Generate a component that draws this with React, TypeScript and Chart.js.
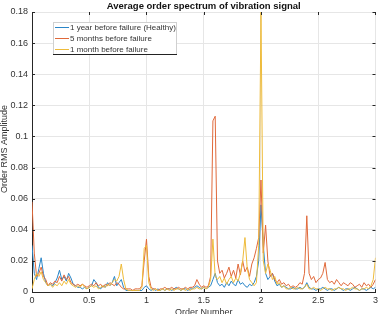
import React, { useEffect, useRef } from "react";
import { Chart, registerables } from "chart.js";

Chart.register(...registerables);

const title = "Average order spectrum of vibration signal";
const xLabel = "Order Number";
const yLabel = "Order RMS Amplitude";
const seriesNames = ["1 year before failure (Healthy)", "5 months before failure", "1 month before failure"];
const seriesColors = ["#2a86c8", "#e0693a", "#eebb3a"];
const xTicks = [0, 0.5, 1, 1.5, 2, 2.5, 3];
const yTicks = [0, 0.02, 0.04, 0.06, 0.08, 0.1, 0.12, 0.14, 0.16, 0.18];

// order axis sampled every 0.02
const orders = Array.from({ length: 151 }, (_, i) => Math.round(i * 2) / 100);

const healthy = [
  0.030, 0.012, 0.008, 0.015, 0.022, 0.012, 0.006, 0.004, 0.005, 0.004,
  0.006, 0.009, 0.014, 0.008, 0.010, 0.007, 0.012, 0.009, 0.005, 0.004,
  0.003, 0.003, 0.002, 0.003, 0.002, 0.003, 0.004, 0.008, 0.006, 0.003,
  0.002, 0.004, 0.003, 0.006, 0.004, 0.006, 0.010, 0.004, 0.006, 0.008,
  0.003, 0.001, 0.001, 0.001, 0.001, 0.001, 0.001, 0.001, 0.001, 0.003,
  0.004, 0.002, 0.001, 0.002, 0.001, 0.002, 0.001, 0.002, 0.001, 0.002,
  0.002, 0.001, 0.002, 0.003, 0.002, 0.001, 0.002, 0.002, 0.001, 0.002,
  0.002, 0.003, 0.004, 0.003, 0.002, 0.003, 0.002, 0.003, 0.004, 0.008,
  0.012, 0.006, 0.004, 0.005, 0.003, 0.006, 0.004, 0.007, 0.005, 0.004,
  0.008, 0.005, 0.006, 0.004, 0.003, 0.005, 0.004, 0.006, 0.010, 0.020,
  0.056, 0.030, 0.012, 0.008, 0.010, 0.012, 0.007, 0.004, 0.005, 0.003,
  0.004, 0.003, 0.002, 0.002, 0.003, 0.002, 0.002, 0.003, 0.002, 0.003,
  0.006, 0.003, 0.002, 0.002, 0.001, 0.002, 0.002, 0.003, 0.002, 0.001,
  0.002, 0.002, 0.001, 0.002, 0.003, 0.002, 0.001, 0.002, 0.002, 0.001,
  0.002, 0.003, 0.002, 0.001, 0.002, 0.002, 0.001, 0.002, 0.003, 0.002,
  0.003,
];

const fiveMonths = [
  0.058, 0.025, 0.010, 0.012, 0.016, 0.010, 0.008, 0.004, 0.006, 0.005,
  0.007, 0.006, 0.010, 0.007, 0.011, 0.008, 0.010, 0.006, 0.005, 0.004,
  0.005, 0.004, 0.005, 0.004, 0.003, 0.004, 0.005, 0.004, 0.006, 0.004,
  0.005, 0.003, 0.005, 0.004, 0.006, 0.005, 0.004, 0.006, 0.005, 0.003,
  0.002, 0.002, 0.002, 0.002, 0.001, 0.002, 0.002, 0.002, 0.004, 0.020,
  0.034, 0.010, 0.003, 0.002, 0.002, 0.001, 0.002, 0.002, 0.003, 0.002,
  0.002, 0.003, 0.002, 0.002, 0.003, 0.002, 0.002, 0.003, 0.002, 0.003,
  0.003, 0.004, 0.008, 0.005, 0.003, 0.004, 0.003, 0.004, 0.010, 0.110,
  0.113, 0.020, 0.012, 0.014, 0.009, 0.012, 0.016, 0.010, 0.014, 0.009,
  0.018, 0.011, 0.020, 0.013, 0.016, 0.010, 0.018, 0.022, 0.028, 0.035,
  0.072, 0.025, 0.043, 0.020, 0.010, 0.012, 0.008, 0.006, 0.008, 0.005,
  0.006, 0.004, 0.005, 0.003, 0.004, 0.003, 0.004, 0.006, 0.005, 0.012,
  0.049, 0.012, 0.008, 0.010, 0.006, 0.008, 0.009, 0.012, 0.019, 0.008,
  0.006, 0.007, 0.005, 0.008, 0.006, 0.004, 0.006, 0.005, 0.004, 0.006,
  0.005, 0.003, 0.004, 0.005, 0.003, 0.006, 0.004, 0.005, 0.003, 0.005,
  0.008,
];

const oneMonth = [
  0.002, 0.008, 0.012, 0.010, 0.013, 0.008, 0.006, 0.004, 0.005, 0.003,
  0.005, 0.004, 0.006, 0.004, 0.007, 0.005, 0.008, 0.005, 0.004, 0.003,
  0.004, 0.003, 0.005, 0.003, 0.002, 0.003, 0.004, 0.003, 0.004, 0.002,
  0.003, 0.004, 0.003, 0.005, 0.004, 0.006, 0.008, 0.007, 0.010, 0.018,
  0.008, 0.002, 0.001, 0.001, 0.001, 0.001, 0.001, 0.001, 0.003, 0.028,
  0.030, 0.006, 0.002, 0.001, 0.002, 0.001, 0.001, 0.002, 0.001, 0.002,
  0.001, 0.002, 0.001, 0.002, 0.002, 0.001, 0.002, 0.001, 0.002, 0.001,
  0.002, 0.002, 0.003, 0.002, 0.002, 0.003, 0.002, 0.003, 0.008, 0.034,
  0.010, 0.008, 0.010, 0.006, 0.009, 0.005, 0.008, 0.010, 0.006, 0.009,
  0.007, 0.012, 0.020, 0.035, 0.015, 0.008, 0.006, 0.004, 0.006, 0.030,
  0.180, 0.020, 0.012, 0.018, 0.014, 0.008, 0.010, 0.005, 0.006, 0.003,
  0.004, 0.002, 0.002, 0.003, 0.002, 0.002, 0.003, 0.002, 0.002, 0.003,
  0.005, 0.002, 0.002, 0.003, 0.002, 0.002, 0.001, 0.002, 0.003, 0.002,
  0.002, 0.001, 0.002, 0.002, 0.003, 0.002, 0.002, 0.001, 0.002, 0.002,
  0.003, 0.002, 0.002, 0.001, 0.002, 0.002, 0.003, 0.002, 0.004, 0.008,
  0.022,
];

const FONT = '"Liberation Sans", Arial, sans-serif';

const decor = {
  id: "decor",
  afterDraw(chart: any) {
    const { ctx, chartArea } = chart;
    const { left, right, top, bottom } = chartArea;
    const xs = chart.scales.x;
    const ys = chart.scales.y;
    ctx.save();
    // inward ticks
    ctx.strokeStyle = "#262626";
    ctx.lineWidth = 1;
    ctx.beginPath();
    yTicks.forEach((v) => {
      const y = Math.round(ys.getPixelForValue(v)) + 0.5;
      ctx.moveTo(left, y); ctx.lineTo(left + 3, y);
      ctx.moveTo(right, y); ctx.lineTo(right - 3, y);
    });
    xTicks.forEach((v) => {
      const x = Math.round(xs.getPixelForValue(v)) + 0.5;
      ctx.moveTo(x, bottom); ctx.lineTo(x, bottom - 3);
      ctx.moveTo(x, top); ctx.lineTo(x, top + 3);
    });
    ctx.stroke();

    // title
    ctx.fillStyle = "#111";
    ctx.font = `bold 9.5px ${FONT}`;
    ctx.textAlign = "center";
    ctx.textBaseline = "middle";
    ctx.fillText(title, (left + right) / 2, 6);

    // x label
    ctx.font = `9px ${FONT}`;
    ctx.fillStyle = "#333";
    ctx.fillText(xLabel, (left + right) / 2, 313);

    // y label
    ctx.save();
    ctx.translate(5, (top + bottom) / 2 - 3);
    ctx.rotate(-Math.PI / 2);
    ctx.fillText(yLabel, 0, 0);
    ctx.restore();

    // legend
    const lx = 53, ly = 22, lw = 123, lh = 32;
    ctx.fillStyle = "#fff";
    ctx.fillRect(lx, ly, lw, lh);
    ctx.strokeStyle = "#d0d0d0";
    ctx.strokeRect(lx + 0.5, ly + 0.5, lw, lh);
    ctx.strokeStyle = "#222";
    ctx.beginPath();
    ctx.moveTo(lx, ly + lh + 0.5);
    ctx.lineTo(lx + lw + 1, ly + lh + 0.5);
    ctx.stroke();
    ctx.font = `8px ${FONT}`;
    ctx.textAlign = "left";
    seriesNames.forEach((name, i) => {
      const yy = 27 + i * 11;
      ctx.strokeStyle = seriesColors[i];
      ctx.beginPath();
      ctx.moveTo(55, yy + 0.5);
      ctx.lineTo(69, yy + 0.5);
      ctx.stroke();
      ctx.fillStyle = "#333";
      ctx.fillText(name, 70, yy + 1);
    });
    ctx.restore();
  },
};

export default function App() {
  const ref = useRef<HTMLCanvasElement | null>(null);
  useEffect(() => {
    document.body.style.margin = "0";
    const series = [healthy, fiveMonths, oneMonth];
    const chart = new Chart(ref.current as HTMLCanvasElement, {
      type: "line",
      data: {
        datasets: series.map((vals, i) => ({
          label: seriesNames[i],
          data: orders.map((o, j) => ({ x: o, y: vals[j] })),
          borderColor: seriesColors[i],
          borderWidth: 1,
          pointRadius: 0,
          fill: false,
          tension: 0,
          order: 3 - i,
        })),
      },
      options: {
        animation: false,
        responsive: false,
        maintainAspectRatio: false,
        layout: { padding: { top: 12, right: 5, left: 0, bottom: 0 } },
        plugins: { legend: { display: false }, tooltip: { enabled: false }, title: { display: false } },
        scales: {
          x: {
            type: "linear",
            min: 0,
            max: 3,
            afterBuildTicks: (s: any) => { s.ticks = xTicks.map((v) => ({ value: v })); },
            afterFit: (s: any) => { s.height = 22; },
            ticks: {
              padding: 3,
              maxRotation: 0,
              font: { family: FONT, size: 9 },
              color: "#333",
              callback: (v: any) => String(+Number(v).toFixed(2)),
            },
            grid: { color: "#e6e6e6", drawTicks: false },
            border: { display: true, color: "#262626" },
          },
          y: {
            type: "linear",
            min: 0,
            max: 0.18,
            afterBuildTicks: (s: any) => { s.ticks = yTicks.map((v) => ({ value: v })); },
            afterFit: (s: any) => { s.width = 32; },
            ticks: {
              padding: 4,
              font: { family: FONT, size: 9 },
              color: "#333",
              callback: (v: any) => String(+Number(v).toFixed(2)),
            },
            grid: { color: "#e6e6e6", drawTicks: false },
            border: { display: true, color: "#262626" },
          },
        },
      },
      plugins: [decor],
    });
    return () => chart.destroy();
  }, []);
  return (
    <div style={{ width: 381, height: 314 }}>
      <canvas ref={ref} width={381} height={314} style={{ display: "block" }} />
    </div>
  );
}
